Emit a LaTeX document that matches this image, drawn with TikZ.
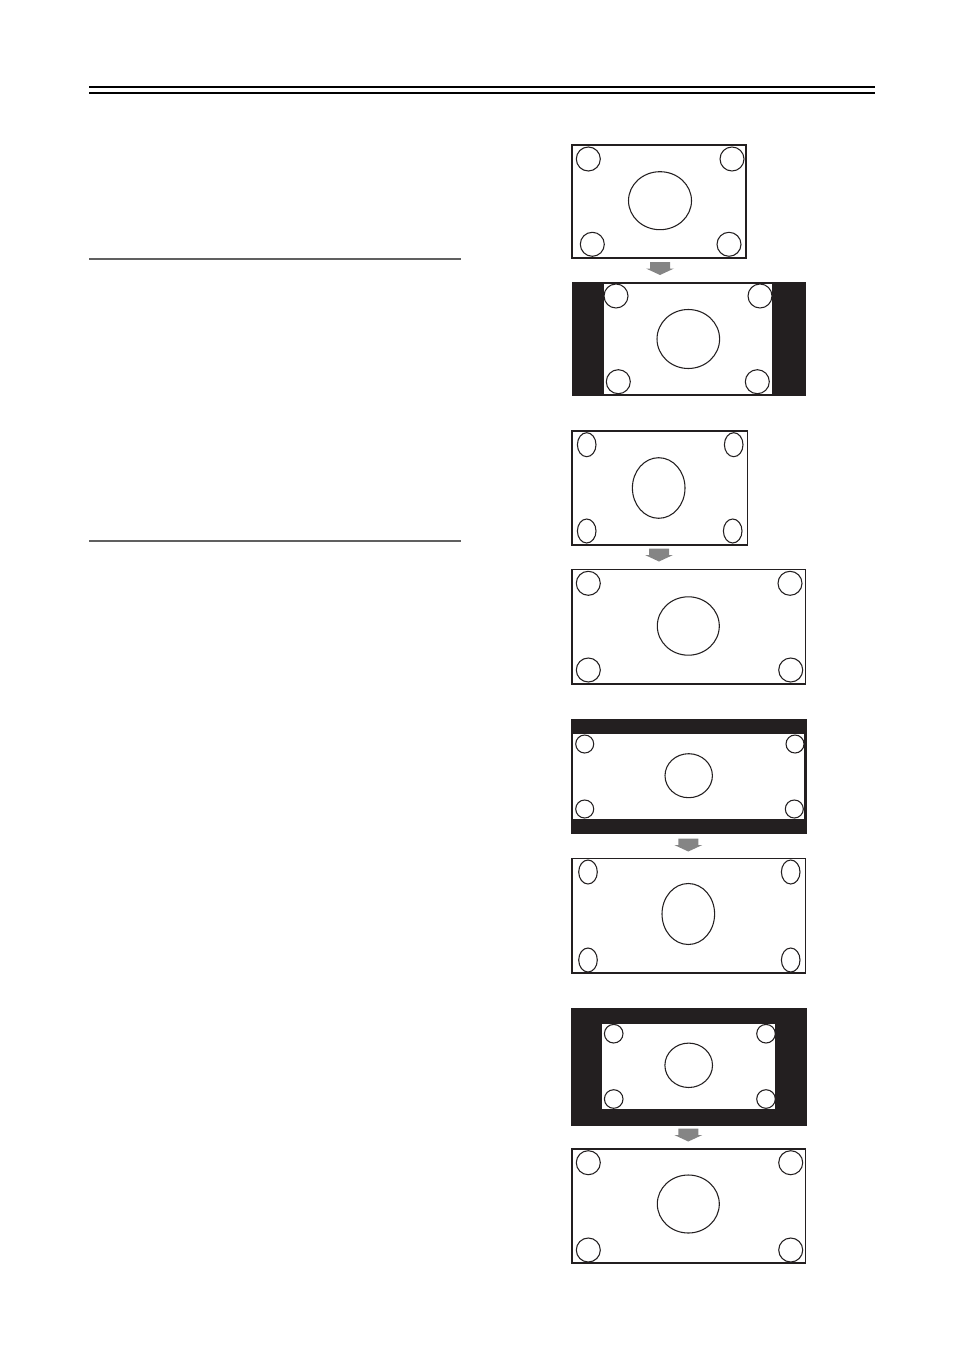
\documentclass[tikz,border=0pt]{standalone}
\definecolor{ink}{HTML}{231F20}
\definecolor{rulegray}{HTML}{606060}
\definecolor{arrowgray}{HTML}{858585}
\tikzset{
  frame/.style={draw=ink,line width=1.3pt,fill=white},
  blackbox/.style={fill=ink,draw=ink,line width=0.6pt},
  hole/.style={fill=white},
  ring/.style={draw=ink,line width=0.8pt},
  blockarrow/.pic={\fill[arrowgray] (-10,0) -- (10,0) -- (10,6.5) -- (14,6.5) -- (0,13) -- (-14,6.5) -- (-10,6.5) -- cycle;}
}
\begin{document}
\begin{tikzpicture}[x=0.75pt,y=-0.75pt]
\useasboundingbox (0,0) rectangle (954,1348);
% header rules
\fill[black] (89,85.7) rectangle (875,88.4);
\fill[black] (89,92.4) rectangle (875,93.8);
\fill[rulegray] (89,258) rectangle (461,260);
\fill[rulegray] (89,540) rectangle (461,542);

% ---- Panel 1 (4:3 source)
\draw[frame,line width=1.5pt] (572,145) rectangle (746,258);
\draw[ring] (588.3,159) circle (12);
\draw[ring] (732,159) circle (12);
\draw[ring] (592.3,244.3) circle (12);
\draw[ring] (729,244.3) circle (12);
\draw[ring] (660,200.7) ellipse (31.5 and 29);
\pic at (660,262) {blockarrow};
% ---- Panel 1b (pillarbox)
\fill[blackbox] (572,282) rectangle (805,395.7);
\fill[hole] (604,284) rectangle (772,394.3);
\draw[ring] (616,296) circle (12);
\draw[ring] (760,296) circle (12);
\draw[ring] (618.3,381.7) circle (12);
\draw[ring] (757.3,381.7) circle (12);
\draw[ring] (688.3,339) ellipse (31.3 and 29.5);

% ---- Panel 2 (squeezed)
\draw[frame] (572,431) rectangle (747.5,545);
\draw[ring] (586.7,444.7) ellipse (9.3 and 12);
\draw[ring] (733.7,444.7) ellipse (9.3 and 12);
\draw[ring] (586.7,531) ellipse (9.3 and 12);
\draw[ring] (732.7,531) ellipse (9.3 and 12);
\draw[ring] (658.7,488) ellipse (26.3 and 30.3);
\pic at (659,548.5) {blockarrow};
% ---- Panel 2b
\draw[frame] (572,569.5) rectangle (805.5,684.3);
\draw[ring] (588.3,583.3) circle (12);
\draw[ring] (790,583.3) circle (12);
\draw[ring] (588.3,670) circle (12);
\draw[ring] (790.7,670) circle (12);
\draw[ring] (688.3,626) ellipse (31 and 29.2);

% ---- Panel 3 (letterbox)
\fill[blackbox] (571,719) rectangle (806,833.3);
\fill[hole] (573.3,734) rectangle (804.3,819);
\draw[ring] (584.7,744) circle (9);
\draw[ring] (795,744) circle (9);
\draw[ring] (584.7,809) circle (9);
\draw[ring] (794.3,809) circle (9);
\draw[ring] (688.7,775.7) ellipse (23.7 and 22);
\pic at (688.3,838.5) {blockarrow};
% ---- Panel 3b
\draw[frame] (572,858.5) rectangle (805.5,973);
\draw[ring] (588,872) ellipse (9.3 and 12);
\draw[ring] (790.7,872) ellipse (9.3 and 12);
\draw[ring] (588,960) ellipse (9.3 and 12);
\draw[ring] (790.7,960) ellipse (9.3 and 12);
\draw[ring] (688.3,914) ellipse (26.3 and 30.5);

% ---- Panel 4 (windowbox)
\fill[blackbox] (571,1008.3) rectangle (806,1125);
\fill[hole] (602,1024) rectangle (775,1109);
\draw[ring] (613.7,1033.7) circle (9.3);
\draw[ring] (766,1033.7) circle (9.3);
\draw[ring] (613.7,1099) circle (9.3);
\draw[ring] (766,1099) circle (9.3);
\draw[ring] (688.7,1065.3) ellipse (23.8 and 22.2);
\pic at (688.3,1128.5) {blockarrow};
% ---- Panel 4b
\draw[frame] (572,1149.3) rectangle (805.5,1263.3);
\draw[ring] (588.3,1162.7) circle (12);
\draw[ring] (790.7,1162.7) circle (12);
\draw[ring] (588.3,1250) circle (12);
\draw[ring] (790.7,1250) circle (12);
\draw[ring] (688.3,1204) ellipse (31 and 29);
\end{tikzpicture}
\end{document}
